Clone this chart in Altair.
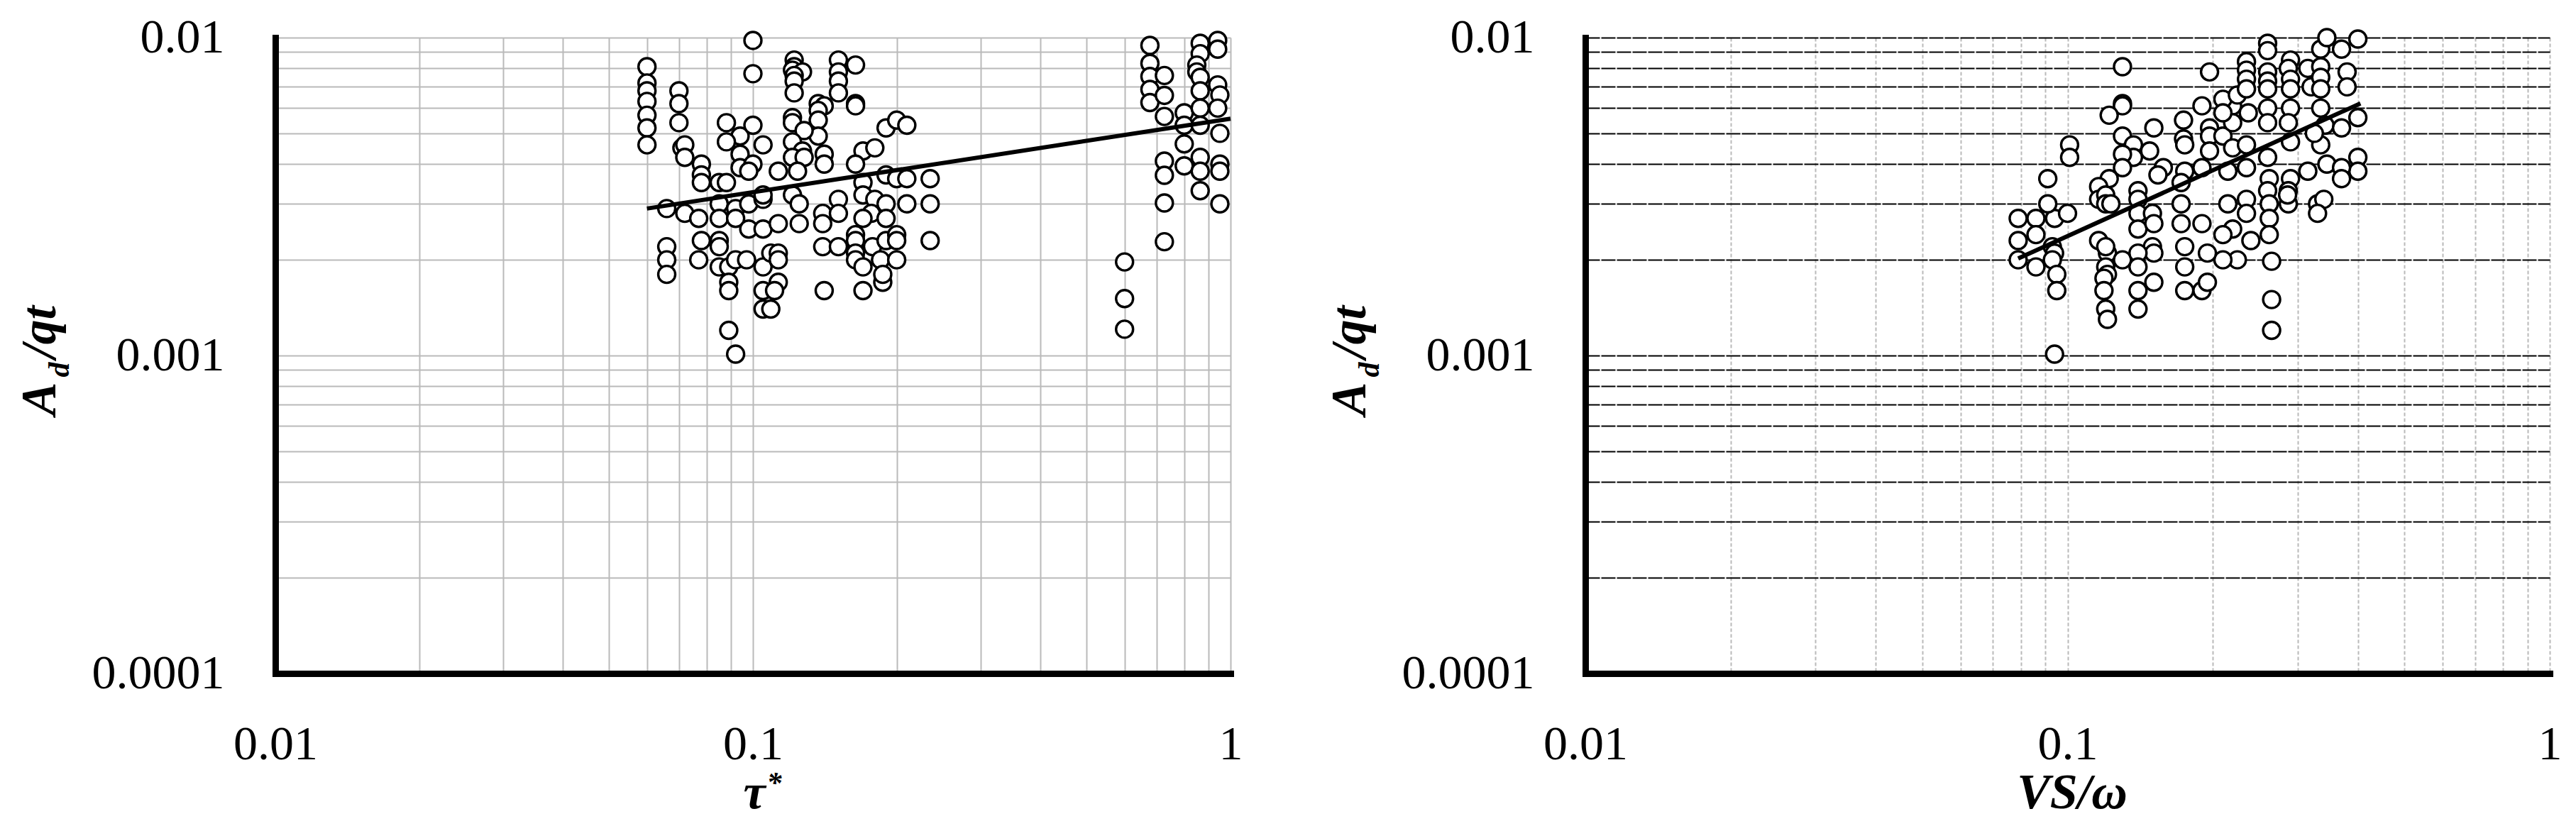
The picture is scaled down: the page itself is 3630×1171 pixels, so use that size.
import altair as alt
import pandas as pd

# ---------------- data ----------------
# Left panel: tau* vs Ad/qt
tau_x = [0.06, 0.06, 0.06, 0.06, 0.06, 0.06, 0.06, 0.066, 0.066, 0.066,
         0.066, 0.07, 0.07, 0.07, 0.071, 0.072, 0.072, 0.1, 0.1, 0.122,
         0.122, 0.121, 0.127, 0.122, 0.122, 0.122, 0.151, 0.164, 0.151, 0.151,
         0.151, 0.164, 0.164, 0.137, 0.141, 0.137, 0.137, 0.137, 0.121, 0.121,
         0.128, 0.121, 0.127, 0.121, 0.128, 0.141, 0.141, 0.088, 0.094, 0.1,
         0.088, 0.105, 0.094, 0.094, 0.1, 0.098, 0.113, 0.124, 0.078, 0.078,
         0.078, 0.085, 0.088, 0.19, 0.2, 0.21, 0.17, 0.18, 0.164, 0.072,
         0.077, 0.085, 0.085, 0.092, 0.092, 0.098, 0.105, 0.105, 0.121, 0.125,
         0.125, 0.14, 0.151, 0.151, 0.17, 0.17, 0.18, 0.19, 0.2, 0.21,
         0.235, 0.19, 0.21, 0.235, 0.177, 0.17, 0.19, 0.098, 0.105, 0.113,
         0.078, 0.085, 0.085, 0.14, 0.14, 0.151, 0.164, 0.164, 0.164, 0.178,
         0.19, 0.2, 0.2, 0.235, 0.077, 0.085, 0.089, 0.089, 0.089, 0.092,
         0.097, 0.105, 0.105, 0.109, 0.113, 0.113, 0.113, 0.111, 0.105, 0.109,
         0.164, 0.17, 0.185, 0.2, 0.141, 0.17, 0.187, 0.187, 0.089, 0.092,
         0.6, 0.6, 0.6, 0.678, 0.678, 0.678, 0.678, 0.678, 0.727, 0.727,
         0.727, 0.727, 0.727, 0.727, 0.727, 0.8, 0.8, 0.8, 0.8, 0.864,
         0.864, 0.85, 0.85, 0.864, 0.864, 0.864, 0.864, 0.864, 0.864, 0.864,
         0.94, 0.94, 0.94, 0.95, 0.94, 0.95, 0.95, 0.95, 0.95]
tau_y = [0.0081, 0.0072, 0.0068, 0.0063, 0.0057, 0.0052, 0.0046, 0.0029, 0.0022, 0.0020,
         0.0018, 0.0068, 0.0062, 0.0054, 0.0045, 0.0046, 0.0042, 0.0098, 0.0077, 0.0085,
         0.0081, 0.0079, 0.0078, 0.0076, 0.0073, 0.0067, 0.0085, 0.0082, 0.0078, 0.0073,
         0.0067, 0.0062, 0.0061, 0.0062, 0.0061, 0.0059, 0.0055, 0.0049, 0.0056, 0.0054,
         0.0051, 0.0047, 0.0044, 0.0042, 0.0042, 0.0043, 0.0040, 0.0054, 0.0049, 0.0053,
         0.0047, 0.0046, 0.0043, 0.0039, 0.0040, 0.0038, 0.0038, 0.0038, 0.0040, 0.0037,
         0.0035, 0.0035, 0.0035, 0.0052, 0.0055, 0.0053, 0.0044, 0.0045, 0.0040, 0.0028,
         0.0027, 0.0030, 0.0027, 0.0029, 0.0027, 0.0030, 0.0031, 0.0032, 0.0032, 0.0030,
         0.0026, 0.0028, 0.0031, 0.0028, 0.0035, 0.0032, 0.0031, 0.0037, 0.0036, 0.0036,
         0.0036, 0.0030, 0.0030, 0.0030, 0.0028, 0.0027, 0.0027, 0.0025, 0.0025, 0.0026,
         0.0023, 0.0023, 0.0022, 0.0026, 0.0022, 0.0022, 0.0024, 0.0023, 0.0021, 0.0022,
         0.0023, 0.0024, 0.0023, 0.0023, 0.0020, 0.0019, 0.0019, 0.0017, 0.0016, 0.0020,
         0.0020, 0.0019, 0.0016, 0.0021, 0.0021, 0.0020, 0.0017, 0.0016, 0.0014, 0.0014,
         0.0020, 0.0019, 0.0020, 0.0020, 0.0016, 0.0016, 0.0017, 0.0018, 0.0012, 0.00101,
         0.00197, 0.00151, 0.00121, 0.00945, 0.0083, 0.00755, 0.00687, 0.00625, 0.0076, 0.00658,
         0.00565, 0.00409, 0.00369, 0.00302, 0.00228, 0.0058, 0.0053, 0.00463, 0.00395, 0.0096,
         0.0089, 0.0082, 0.0078, 0.0075, 0.0068, 0.0060, 0.0053, 0.0042, 0.0038, 0.0033,
         0.0098, 0.0092, 0.0071, 0.0066, 0.0060, 0.0050, 0.0040, 0.0038, 0.0030]

# Right panel: VS/omega vs Ad/qt
vs_x = [0.13, 0.13, 0.13, 0.122, 0.13, 0.101, 0.101, 0.137, 0.137, 0.151,
        0.148, 0.13, 0.13, 0.091, 0.122, 0.116, 0.116, 0.12, 0.12, 0.123,
        0.158, 0.154, 0.14, 0.14, 0.14, 0.14, 0.15, 0.151, 0.15, 0.151,
        0.079, 0.086, 0.094, 0.1, 0.091, 0.079, 0.086, 0.093, 0.079, 0.086,
        0.094, 0.093, 0.095, 0.095, 0.094, 0.116, 0.121, 0.12, 0.13, 0.14,
        0.12, 0.121, 0.119, 0.119, 0.12, 0.121, 0.14, 0.14, 0.151, 0.14,
        0.197, 0.19, 0.174, 0.174, 0.175, 0.197, 0.197, 0.197, 0.21, 0.22,
        0.22, 0.22, 0.21, 0.21, 0.225, 0.235, 0.235, 0.235, 0.235, 0.237,
        0.235, 0.26, 0.26, 0.26, 0.26, 0.26, 0.26, 0.26, 0.29, 0.287,
        0.29, 0.29, 0.29, 0.287, 0.29, 0.315, 0.32, 0.335, 0.335, 0.335,
        0.335, 0.335, 0.342, 0.335, 0.345, 0.37, 0.38, 0.38, 0.37, 0.4,
        0.4, 0.4, 0.4, 0.325, 0.345, 0.37, 0.37, 0.315, 0.33, 0.34,
        0.33, 0.29, 0.287, 0.287, 0.286, 0.26, 0.262, 0.26, 0.262, 0.262,
        0.262, 0.235, 0.215, 0.235, 0.235, 0.24, 0.215, 0.22, 0.21, 0.225,
        0.21, 0.265, 0.265, 0.265, 0.19, 0.175, 0.172, 0.172, 0.172, 0.19,
        0.175, 0.195, 0.175, 0.175, 0.19, 0.195]
vs_y = [0.0081, 0.0062, 0.0061, 0.0057, 0.0049, 0.0046, 0.0042, 0.0046, 0.0042, 0.0052,
        0.0044, 0.0043, 0.0039, 0.0036, 0.0036, 0.0034, 0.0031, 0.0032, 0.0030, 0.0030,
        0.0039, 0.0037, 0.0033, 0.0031, 0.0028, 0.0025, 0.0028, 0.0026, 0.0022, 0.0021,
        0.0027, 0.0027, 0.0027, 0.0028, 0.0030, 0.0023, 0.0024, 0.0022, 0.0020, 0.0019,
        0.0021, 0.0020, 0.0018, 0.0016, 0.00101, 0.0023, 0.0021, 0.0022, 0.0020, 0.0021,
        0.0019, 0.0018, 0.00175, 0.0016, 0.0014, 0.0013, 0.0019, 0.0016, 0.0017, 0.0014,
        0.0078, 0.0061, 0.0055, 0.0048, 0.0046, 0.0052, 0.0049, 0.0044, 0.0049, 0.0061,
        0.0054, 0.0045, 0.0064, 0.0058, 0.0066, 0.0084, 0.0079, 0.0074, 0.0069, 0.0058,
        0.0046, 0.0096, 0.0091, 0.0078, 0.0073, 0.0069, 0.0060, 0.0054, 0.0085, 0.0080,
        0.0074, 0.0069, 0.0060, 0.0054, 0.0047, 0.0080, 0.0070, 0.0092, 0.0081, 0.0075,
        0.0069, 0.0060, 0.0053, 0.0046, 0.0100, 0.0092, 0.0078, 0.0070, 0.0052, 0.0099,
        0.0056, 0.0042, 0.0038, 0.0050, 0.0040, 0.0039, 0.0036, 0.0038, 0.0030, 0.0031,
        0.0028, 0.0036, 0.0033, 0.0030, 0.0032, 0.0042, 0.0036, 0.0033, 0.0030, 0.0027,
        0.0024, 0.0039, 0.0038, 0.0031, 0.0028, 0.0023, 0.0030, 0.0025, 0.0024, 0.0020,
        0.0020, 0.00198, 0.0015, 0.0012, 0.0039, 0.0038, 0.0035, 0.0030, 0.0026, 0.0026,
        0.0022, 0.0021, 0.0019, 0.0016, 0.0016, 0.0017]

# Fitted power-law trend lines (end points)
tau_fit_x = [0.06, 1.0]
tau_fit_y = [0.0029, 0.00556]
vs_fit_x = [0.079, 0.405]
vs_fit_y = [0.00202, 0.00621]

# Axis / grid tick values
x_grid = [round(m * 10.0 ** e, 6) for e in (-2, -1) for m in range(1, 10)] + [1.0]
y_grid = [round(m * 10.0 ** e, 8) for e in (-4, -3) for m in range(1, 10)] + [0.01]

y_title_parts = ["A", "d", "/qt"]
tau_title_parts = ["τ", "*"]
vs_title = "VS/ω"

FONT = "Liberation Serif"
H = 896
W_LEFT = 1346
W_RIGHT = 1359

LABEL_EXPR = ("abs(log(datum.value)/LN10 - round(log(datum.value)/LN10)) < 0.001"
              " ? format(datum.value, '~g') : ''")


def make_axis(values, grid_color, grid_dash, grid_width, pad):
    kw = dict(values=values, labelExpr=LABEL_EXPR, title="", grid=True,
              gridColor=grid_color, gridWidth=grid_width, gridOpacity=1,
              ticks=False, domainColor="black", domainWidth=9, domainCap="square",
              labelFont=FONT, labelFontSize=68, labelColor="black", labelLimit=1000,
              labelPadding=pad, labelFlush=False, labelOverlap=False, labelBound=False)
    if grid_dash:
        kw["gridDash"] = grid_dash
    return alt.Axis(**kw)


def text_layer(txt, size, x, y, angle=0, align="center"):
    kw = dict(text=txt, font=FONT, fontSize=size, fontStyle="italic", fontWeight="bold",
              align=align, baseline="alphabetic", color="black")
    if angle:
        kw["angle"] = angle
    return alt.Chart(pd.DataFrame({"k": [0]})).mark_text(**kw).encode(
        x=alt.value(x), y=alt.value(y))


def panel(px, py, fx, fy, width, xaxis, yaxis, xtitle_layers):
    xs = alt.Scale(type="log", domain=[0.01, 1], nice=False)
    ys = alt.Scale(type="log", domain=[0.0001, 0.01], nice=False)
    pts = alt.Chart(pd.DataFrame({"x": px, "y": py})).mark_point(
        shape="circle", size=576, fill="white", stroke="black", strokeWidth=3.4,
        opacity=1, fillOpacity=1,
    ).encode(
        x=alt.X("x:Q", scale=xs, axis=xaxis),
        y=alt.Y("y:Q", scale=ys, axis=yaxis),
    )
    fit = alt.Chart(pd.DataFrame({"x": fx, "y": fy})).mark_line(
        color="black", strokeWidth=6
    ).encode(
        x=alt.X("x:Q", scale=xs, axis=xaxis),
        y=alt.Y("y:Q", scale=ys, axis=yaxis),
    )
    ytitle = [
        text_layer(y_title_parts[0], 70, -310, 509, angle=270),
        text_layer(y_title_parts[1], 42, -291, 468, angle=270),
        text_layer(y_title_parts[2], 70, -310, 415, angle=270),
    ]
    return alt.layer(pts, fit, *ytitle, *xtitle_layers).properties(width=width, height=H)


left_x_axis = make_axis(x_grid, "#bababa", None, 2, 66)
left_y_axis = make_axis(y_grid, "#bababa", None, 2, 72)
right_x_axis = make_axis(x_grid, "#bababa", [5, 3], 2, 66)
right_y_axis = make_axis(y_grid, "#000000", [20, 2], 2.2, 72)

left = panel(tau_x, tau_y, tau_fit_x, tau_fit_y, W_LEFT, left_x_axis, left_y_axis, [
    text_layer(tau_title_parts[0], 70, 675, H + 190),
    text_layer(tau_title_parts[1], 42, 703, H + 168),
])
right = panel(vs_x, vs_y, vs_fit_x, vs_fit_y, W_RIGHT, right_x_axis, right_y_axis, [
    text_layer(vs_title, 70, 686, H + 190),
])

chart = alt.hconcat(left, right, spacing=500, bounds="flush").properties(
    padding={"left": 14, "top": 11, "right": 5, "bottom": 5},
    background="white",
).configure_view(strokeWidth=0)

chart.save("out.html", embed_options={"renderer": "svg", "actions": False})
